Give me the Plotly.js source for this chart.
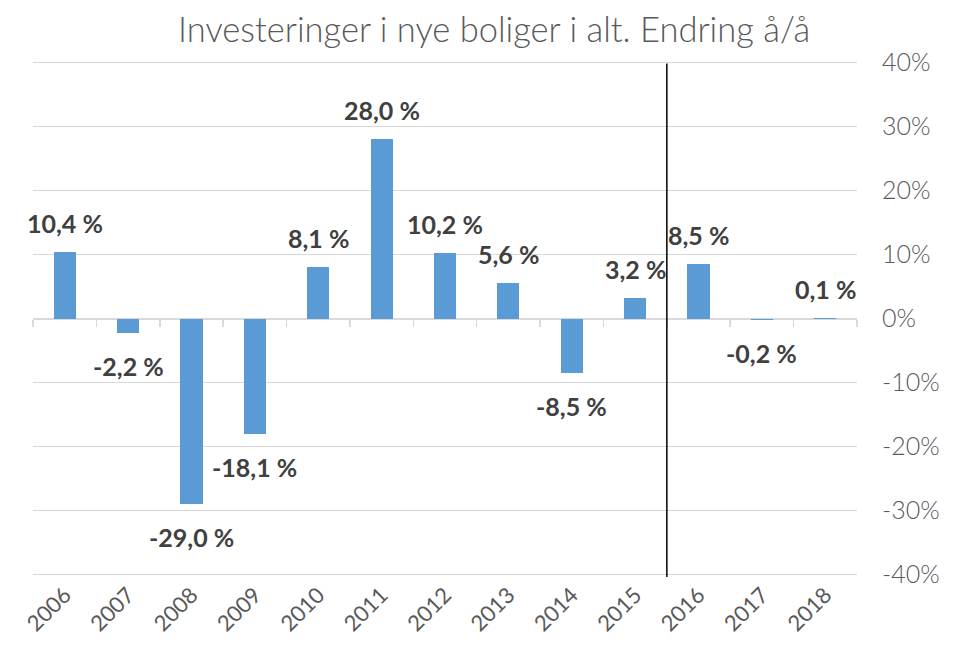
<!DOCTYPE html>
<html>
<head>
<meta charset="utf-8">
<script src="https://cdn.plot.ly/plotly-3.0.1.min.js"></script>
<style>body{margin:0;padding:0;background:#fff;}#chart{width:969px;height:663px;}</style>
</head>
<body>
<div id="chart"></div>
<script>
const years = ['2006','2007','2008','2009','2010','2011','2012','2013','2014','2015','2016','2017','2018'];
const changes = [10.4, -2.2, -29.0, -18.1, 8.1, 28.0, 10.2, 5.6, -8.5, 3.2, 8.5, -0.2, 0.1];
const yTicks = [-40, -30, -20, -10, 0, 10, 20, 30, 40];
const yTickText = ['-40%', '-30%', '-20%', '-10%', '0%', '10%', '20%', '30%', '40%'];
const titleText = 'Investeringer i nye boliger i alt. Endring å/å';
const splitAfter = '2015';

const fmt = v => v.toFixed(1).replace('.', ',') + ' %';
const fam = 'Lato, "Open Sans", sans-serif';

const traces = [
  {
    type: 'bar', x: years, y: changes, xaxis: 'x', yaxis: 'y',
    width: 0.35, marker: {color: '#5B9BD5'}, hoverinfo: 'skip', showlegend: false
  },
  {
    type: 'bar', x: years, y: changes.map(() => 0), xaxis: 'x2', yaxis: 'y',
    hoverinfo: 'skip', showlegend: false, marker: {color: 'rgba(0,0,0,0)'}
  }
];

const annotations = years.map((yr, i) => ({
  x: i, y: changes[i], xref: 'x', yref: 'y',
  text: '<b>' + fmt(changes[i]) + '</b>', showarrow: false,
  yshift: changes[i] >= 0 ? 29 : -33,
  font: {family: fam, size: 25, color: '#404040'},
  xanchor: 'center', yanchor: 'middle'
}));

const splitIdx = years.indexOf(splitAfter) + 0.5;

const layout = {
  width: 969, height: 663,
  margin: {l: 33, r: 112, t: 60, b: 86},
  paper_bgcolor: '#ffffff', plot_bgcolor: '#ffffff',
  title: {
    text: titleText, xref: 'container', x: 0.51, xanchor: 'center',
    yref: 'container', y: 0.955, yanchor: 'middle',
    font: {family: fam, size: 34.5, color: '#595959', weight: 300}
  },
  xaxis: {
    type: 'category', range: [-0.5, 12.5], showgrid: false, showline: false,
    ticks: '', tickangle: -45, fixedrange: true,
    tickfont: {family: fam, size: 22, color: '#595959'}
  },
  xaxis2: {
    type: 'category', overlaying: 'x', range: [-0.5, 12.5], anchor: 'free', position: 0.5,
    showline: true, linecolor: '#d9d9d9', linewidth: 1.5, layer: 'below traces',
    ticks: 'outside', tickson: 'boundaries', ticklen: 7, tickcolor: '#d9d9d9', tickwidth: 1.5,
    showticklabels: false, showgrid: false
  },
  yaxis: {
    range: [-40.4, 40.4], side: 'right', tickvals: yTicks, ticktext: yTickText,
    showgrid: true, gridcolor: '#d9d9d9', gridwidth: 1.5, zeroline: false,
    showline: false, ticks: '', ticklabelstandoff: 24,
    tickfont: {family: fam, size: 25, color: '#595959', weight: 300}
  },
  bargap: 0, barmode: 'overlay',
  shapes: [{
    type: 'line', xref: 'x', yref: 'paper', x0: splitIdx, x1: splitIdx,
    y0: 0.0, y1: 0.993, line: {color: '#000000', width: 1.5}
  }],
  annotations: annotations
};

Plotly.newPlot('chart', traces, layout, {displayModeBar: false, staticPlot: true});
</script>
</body>
</html>
